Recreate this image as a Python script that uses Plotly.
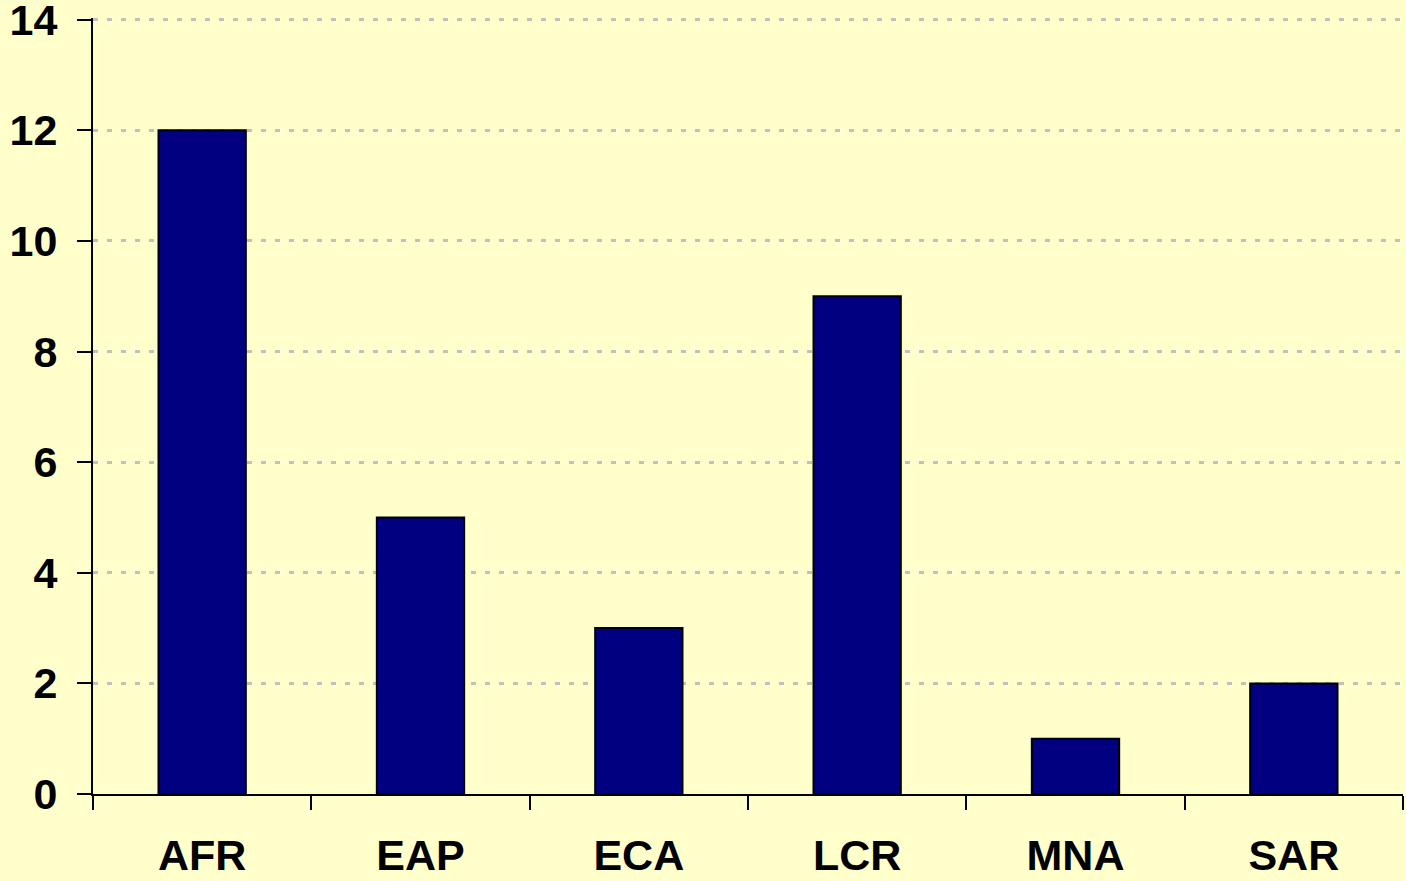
import plotly.graph_objects as go

regions = ["AFR", "EAP", "ECA", "LCR", "MNA", "SAR"]
values = [12, 5, 3, 9, 1, 2]
y_ticks = [0, 2, 4, 6, 8, 10, 12, 14]

bg = "#FFFFCC"
tfont = dict(family="Liberation Sans, Arial, sans-serif", size=43, color="black", weight="bold")

fig = go.Figure(go.Bar(
    x=regions, y=values, width=0.4,
    marker=dict(color="#000080", line=dict(color="black", width=2)),
))

fig.update_layout(
    width=1406, height=881,
    margin=dict(l=93, r=3, t=18, b=87),
    paper_bgcolor=bg, plot_bgcolor=bg,
    font=dict(family="Liberation Sans, Arial, sans-serif", size=43, color="black"),
    showlegend=False,
)
fig.update_xaxes(
    type="category", showline=True, linecolor="black", linewidth=2,
    ticks="outside", ticklen=14, tickwidth=2, tickcolor="black",
    tickson="boundaries", showgrid=False, automargin=False,
    tickfont=tfont, ticklabelstandoff=22,
)
fig.update_yaxes(
    range=[0, 14.03], tickvals=y_ticks, showline=True, linecolor="black", linewidth=2,
    ticks="outside", ticklen=14, tickwidth=2, tickcolor="black",
    showgrid=True, gridcolor="#C0C0C0", gridwidth=3, griddash="5px,9px",
    zeroline=False, tickfont=tfont, ticklabelstandoff=11,
    ticklabeloverflow="allow", automargin=False,
)

fig.write_html(
    "out.html",
    config={"displayModeBar": False},
    post_script="document.body.style.margin='0';document.body.style.background='#FFFFCC';",
)
